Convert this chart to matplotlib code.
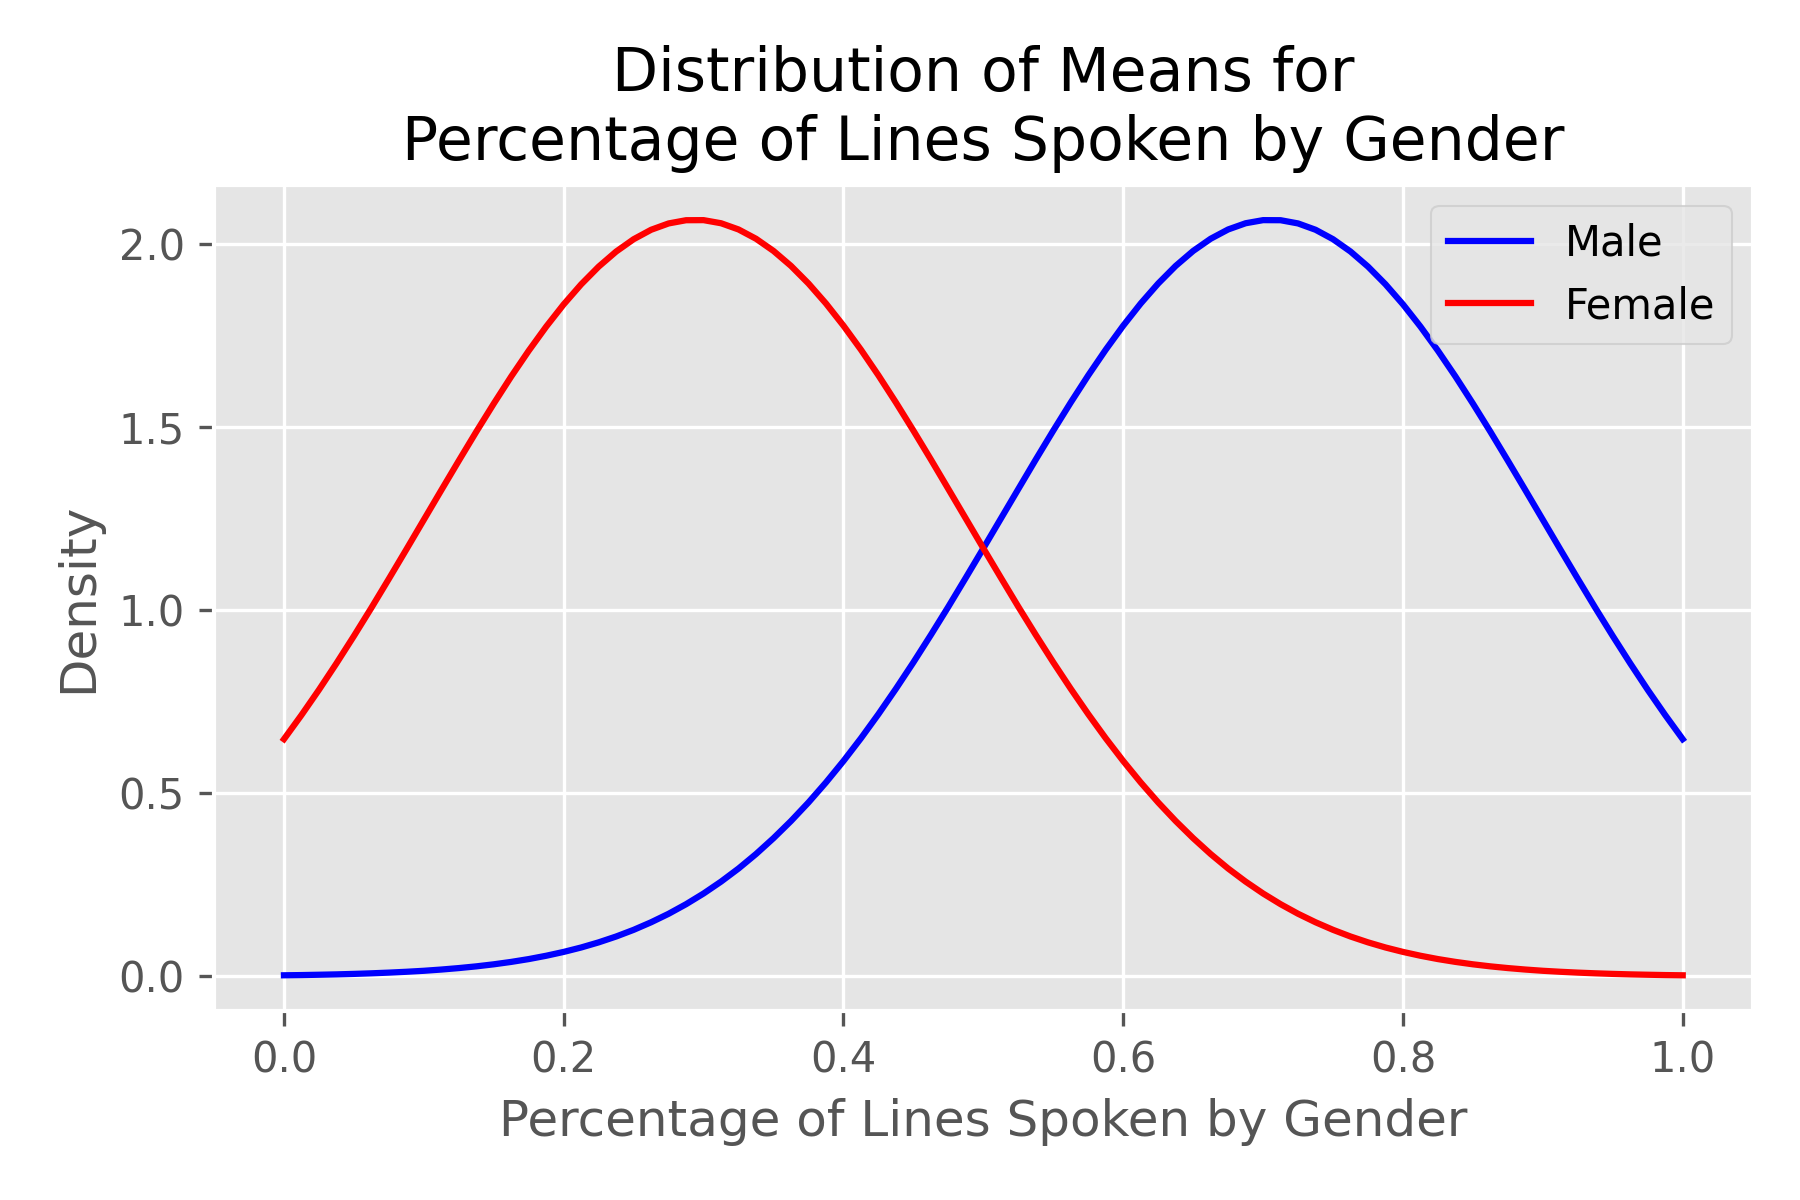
import matplotlib
matplotlib.use("Agg")
import matplotlib.pyplot as plt

x_vals = [0.0, 0.0125, 0.025, 0.0375, 0.05, 0.0625, 0.075, 0.0875, 0.1, 0.1125,
          0.125, 0.1375, 0.15, 0.1625, 0.175, 0.1875, 0.2, 0.2125, 0.225, 0.2375,
          0.25, 0.2625, 0.275, 0.2875, 0.3, 0.3125, 0.325, 0.3375, 0.35, 0.3625,
          0.375, 0.3875, 0.4, 0.4125, 0.425, 0.4375, 0.45, 0.4625, 0.475, 0.4875,
          0.5, 0.5125, 0.525, 0.5375, 0.55, 0.5625, 0.575, 0.5875, 0.6, 0.6125,
          0.625, 0.6375, 0.65, 0.6625, 0.675, 0.6875, 0.7, 0.7125, 0.725, 0.7375,
          0.75, 0.7625, 0.775, 0.7875, 0.8, 0.8125, 0.825, 0.8375, 0.85, 0.8625,
          0.875, 0.8875, 0.9, 0.9125, 0.925, 0.9375, 0.95, 0.9625, 0.975, 0.9875,
          1.0]

male_density = [0.0026, 0.0032, 0.0041, 0.0051, 0.0064, 0.0080, 0.0099, 0.0122,
                0.0149, 0.0183, 0.0223, 0.0270, 0.0326, 0.0392, 0.0469, 0.0560,
                0.0665, 0.0786, 0.0926, 0.1086, 0.1268, 0.1475, 0.1707, 0.1969,
                0.2261, 0.2586, 0.2944, 0.3340, 0.3773, 0.4242, 0.4749, 0.5296,
                0.5881, 0.6503, 0.7162, 0.7855, 0.8577, 0.9327, 1.0098, 1.0892,
                1.1694, 1.2504, 1.3313, 1.4120, 1.4910, 1.5679, 1.6419, 1.7120,
                1.7777, 1.8383, 1.8929, 1.9410, 1.9819, 2.0152, 2.0406, 2.0576,
                2.0661, 2.0659, 2.0571, 2.0398, 2.0140, 1.9803, 1.9391, 1.8908,
                1.8360, 1.7752, 1.7093, 1.6390, 1.5648, 1.4879, 1.4087, 1.3283,
                1.2473, 1.1662, 1.0859, 1.0067, 0.9296, 0.8548, 0.7826, 0.7136,
                0.6478]

female_density = [0.6478, 0.7136, 0.7826, 0.8548, 0.9296, 1.0067, 1.0859, 1.1662,
                  1.2473, 1.3283, 1.4087, 1.4879, 1.5648, 1.6390, 1.7093, 1.7752,
                  1.8360, 1.8908, 1.9391, 1.9803, 2.0140, 2.0398, 2.0571, 2.0659,
                  2.0661, 2.0576, 2.0406, 2.0152, 1.9819, 1.9410, 1.8929, 1.8383,
                  1.7777, 1.7120, 1.6419, 1.5679, 1.4910, 1.4120, 1.3313, 1.2504,
                  1.1694, 1.0892, 1.0098, 0.9327, 0.8577, 0.7855, 0.7162, 0.6503,
                  0.5881, 0.5296, 0.4749, 0.4242, 0.3773, 0.3340, 0.2944, 0.2586,
                  0.2261, 0.1969, 0.1707, 0.1475, 0.1268, 0.1086, 0.0926, 0.0786,
                  0.0665, 0.0560, 0.0469, 0.0392, 0.0326, 0.0270, 0.0223, 0.0183,
                  0.0149, 0.0122, 0.0099, 0.0080, 0.0064, 0.0051, 0.0041, 0.0032,
                  0.0026]

plt.style.use("ggplot")
fig, ax = plt.subplots(figsize=(6, 4), dpi=300)
ax.plot(x_vals, male_density, color="blue", lw=1.5, label="Male")
ax.plot(x_vals, female_density, color="red", lw=1.5, label="Female")
ax.set_title("Distribution of Means for\nPercentage of Lines Spoken by Gender")
ax.set_xlabel("Percentage of Lines Spoken by Gender")
ax.set_ylabel("Density")
ax.set_ylim(-0.094, 2.163)
ax.legend(loc="upper right")
fig.subplots_adjust(left=0.1189, right=0.9737, top=0.8461, bottom=0.1578)
fig.savefig("out.png", dpi=300)
